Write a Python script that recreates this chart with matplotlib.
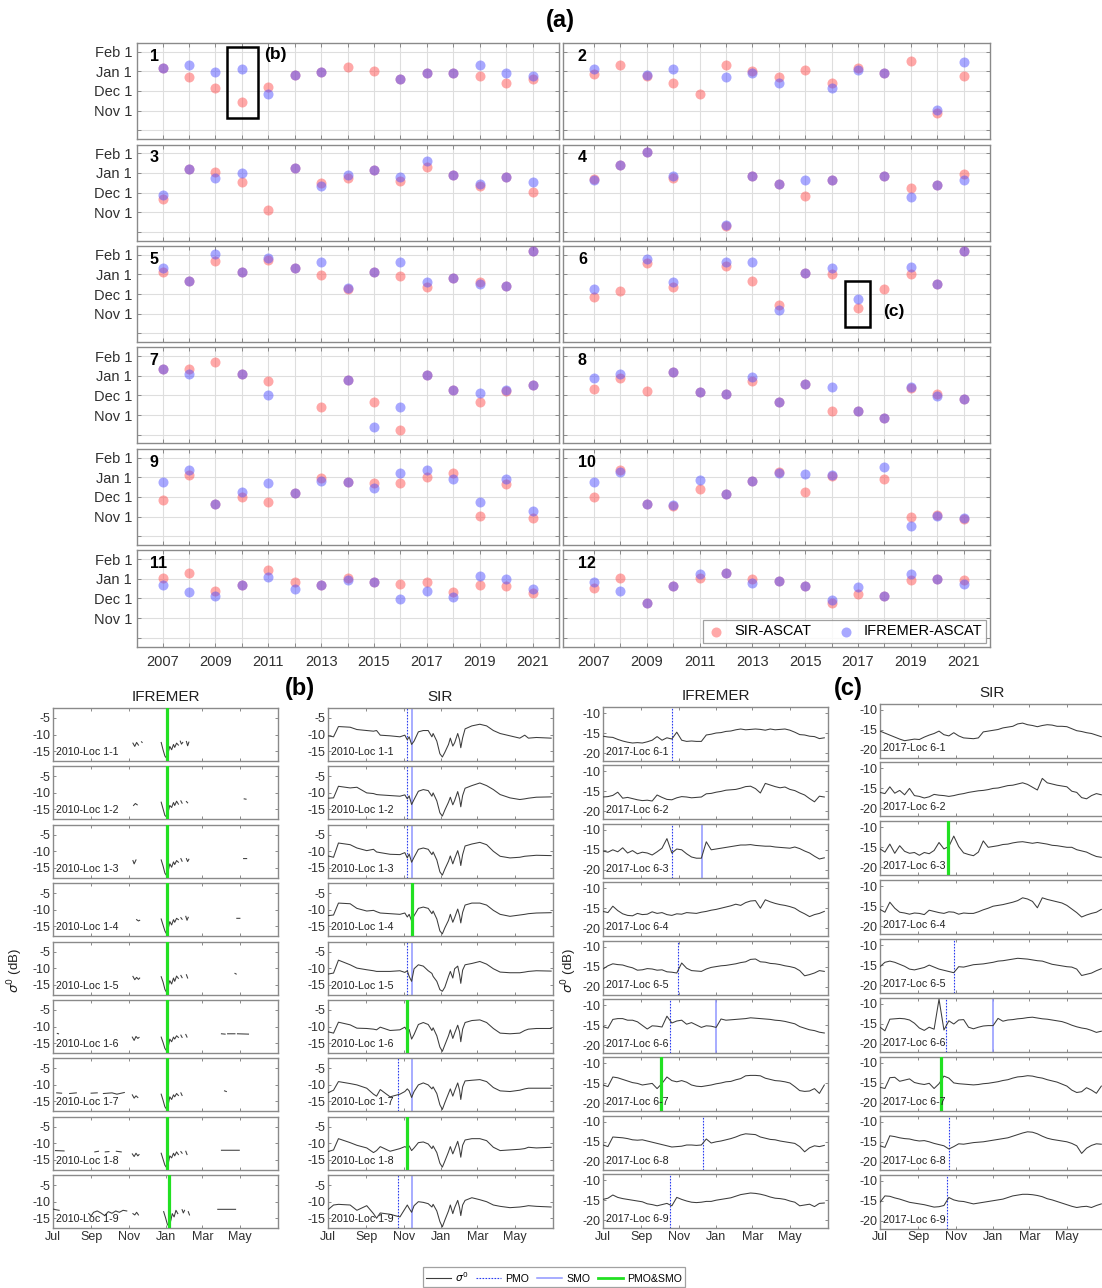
import numpy as np
import matplotlib.pyplot as plt
from matplotlib.patches import Rectangle
from matplotlib.lines import Line2D

plt.rcParams['font.family'] = ['Liberation Sans', 'DejaVu Sans']
plt.rcParams['axes.unicode_minus'] = False

nan = np.nan
W, H = 1102, 1288

# ---------------- (a) onset dates, in months relative to Jan 1 ----------------
YEARS = list(range(2007, 2022))
SIR_1 = [0.17, -0.26, -0.83, -1.55, -0.81, -0.16, -0.03, 0.21, 0.05, -0.4, -0.07, -0.09, -0.21, -0.57, -0.4]
IFR_1 = [0.17, 0.34, -0.05, 0.12, -1.17, -0.16, -0.03, nan, nan, -0.4, -0.1, -0.09, 0.34, -0.1, -0.21]
SIR_2 = [-0.12, 0.34, -0.23, -0.6, -1.16, 0.31, 0.0, -0.29, 0.09, -0.6, 0.2, -0.1, 0.52, -2.12, -0.21]
IFR_2 = [0.12, nan, -0.19, 0.14, nan, -0.26, -0.06, -0.57, nan, -0.83, 0.1, -0.1, nan, -1.98, 0.5]
SIR_3 = [-1.31, 0.22, 0.03, -0.48, -1.88, 0.28, -0.53, -0.28, 0.16, -0.4, 0.33, -0.1, -0.69, -0.21, -0.95]
IFR_3 = [-1.12, 0.22, -0.26, -0.02, nan, 0.28, -0.66, -0.1, 0.16, -0.22, 0.64, -0.1, -0.57, -0.21, -0.45]
SIR_4 = [-0.3, 0.41, 1.07, -0.28, nan, -2.74, -0.14, -0.55, -1.17, -0.34, nan, -0.14, -0.79, -0.6, -0.07]
IFR_4 = [-0.36, 0.41, 1.07, -0.14, nan, -2.66, -0.14, -0.55, -0.36, -0.34, nan, -0.14, -1.24, -0.64, -0.34]
SIR_5 = [0.14, -0.31, 0.71, 0.14, 0.76, 0.34, -0.03, -0.76, 0.14, -0.07, -0.64, -0.17, -0.38, -0.57, 1.21]
IFR_5 = [0.34, -0.31, 1.05, 0.14, 0.86, 0.34, 0.64, -0.69, 0.14, 0.64, -0.4, -0.17, -0.47, -0.57, 1.21]
SIR_6 = [-1.14, -0.83, 0.57, -0.64, nan, 0.45, -0.33, -1.55, 0.09, 0.02, -1.74, -0.72, 0.0, -0.47, 1.19]
IFR_6 = [-0.72, nan, 0.79, -0.41, nan, 0.62, 0.66, -1.81, 0.09, 0.34, -1.24, nan, 0.38, -0.47, 1.19]
SIR_7 = [0.38, 0.38, 0.72, 0.12, -0.26, nan, -1.57, -0.19, -1.31, -2.79, 0.05, -0.74, -1.34, -0.79, -0.48]
IFR_7 = [0.34, 0.12, nan, 0.12, -0.95, nan, nan, -0.19, -2.59, -1.57, 0.05, -0.74, -0.88, -0.74, -0.48]
SIR_8 = [-0.69, -0.1, -0.76, 0.21, -0.83, -0.91, -0.28, -1.34, -0.4, -1.79, -1.79, -2.17, -0.62, -0.93, -1.17]
IFR_8 = [-0.1, 0.1, nan, 0.21, -0.83, -0.91, -0.07, -1.34, -0.4, -0.55, -1.79, -2.17, -0.55, -1.03, -1.17]
SIR_9 = [-1.14, 0.14, -1.38, -1.02, -1.24, -0.81, -0.03, -0.21, -0.26, -0.26, 0.0, 0.22, -1.98, -0.33, -2.07]
IFR_9 = [-0.21, 0.4, -1.38, -0.76, -0.29, -0.81, -0.17, -0.21, -0.52, 0.24, 0.36, -0.07, -1.28, -0.07, -1.72]
SIR_10 = [-0.98, 0.36, -1.38, -1.48, -0.6, -0.86, -0.17, 0.27, -0.72, 0.07, nan, -0.07, -2.0, -1.9, -2.14]
IFR_10 = [-0.24, 0.26, -1.38, -1.43, -0.14, -0.86, -0.17, 0.22, 0.17, 0.12, nan, 0.53, -2.48, -1.97, -2.06]
SIR_11 = [0.03, 0.33, -0.62, -0.31, 0.47, -0.14, -0.33, 0.07, -0.14, -0.26, -0.17, -0.69, -0.31, -0.36, -0.74]
IFR_11 = [-0.31, -0.69, -0.86, -0.31, 0.1, -0.52, -0.33, -0.07, -0.14, -1.03, -0.6, -0.91, 0.17, 0.0, -0.52]
SIR_12 = [-0.45, 0.03, -1.21, -0.38, 0.03, 0.29, 0.0, -0.09, -0.34, -1.24, -0.79, -0.86, -0.07, -0.02, -0.05]
IFR_12 = [-0.14, -0.6, -1.21, -0.34, 0.24, 0.29, -0.22, -0.09, -0.34, -1.07, -0.4, -0.86, 0.24, -0.02, -0.26]

SIR_ALL = [SIR_1, SIR_2, SIR_3, SIR_4, SIR_5, SIR_6, SIR_7, SIR_8, SIR_9, SIR_10, SIR_11, SIR_12]
IFR_ALL = [IFR_1, IFR_2, IFR_3, IFR_4, IFR_5, IFR_6, IFR_7, IFR_8, IFR_9, IFR_10, IFR_11, IFR_12]
MONTH_TICKS = [1, 0, -1, -2, -3]
MONTH_LABELS = ['Feb 1', 'Jan 1', 'Dec 1', 'Nov 1', '']

# ---------------- (b)/(c) sigma0 series, days since Jul 1 ----------------
# IFREMER 2010: sparse (day, dB) observations, None = gap
IFR10_1 = [(130, -12.6), (133, -13.6), (136, -12.4), (139, -13.2), None, (144, -12.2), (145, -12.4), None,
           (176, -12.4), (179, -14.6), (182, -16.5), (185, -17.2), (188, -15.0), (190, -13.6), (193, -14.6),
           (196, -13.0), (198, -13.9), (201, -12.6), (204, -13.2), None, (207, -12.0), (209, -12.9), (211, -12.4),
           None, (217, -12.1), (219, -13.4), (221, -12.3)]
IFR10_2 = [(131, -13.8), (134, -13.2), (137, -13.6), None, (176, -12.8), (179, -14.8), (182, -16.8), (185, -17.3),
           (188, -15.2), (190, -13.8), (193, -14.4), (196, -12.9), (198, -13.8), (201, -12.5), (204, -13.4), None,
           (208, -12.4), (210, -13.1), None, (217, -12.6), (219, -13.0), None, (311, -11.8), (314, -11.9)]
IFR10_3 = [(130, -12.8), (132, -13.8), (135, -12.6), None, (176, -12.6), (179, -14.4), (182, -16.6), (185, -17.4),
           (188, -15.4), (190, -13.8), (193, -14.8), (196, -13.2), (198, -14.0), (201, -12.8), (204, -13.3), None,
           (208, -12.2), (210, -13.0), None, (217, -12.2), (219, -13.1), (221, -12.4), None, (310, -12.2), (315, -12.2)]
IFR10_4 = [(136, -13.0), (139, -13.4), (141, -13.2), None, (176, -12.8), (179, -14.6), (182, -16.4), (185, -17.4),
           (188, -15.2), (190, -13.6), (193, -14.6), (196, -13.0), (198, -13.8), (201, -12.6), (204, -13.0), None,
           (208, -12.4), (210, -12.9), None, (216, -12.0), (218, -13.2), (220, -12.3), None, (299, -12.6), (304, -12.6)]
IFR10_5 = [(130, -12.5), (133, -13.5), (136, -12.8), (139, -13.4), (141, -13.0), None, (176, -12.6), (179, -14.2),
           (182, -16.4), (185, -17.4), (188, -15.0), (190, -13.8), (193, -14.8), (196, -13.0), (198, -14.0),
           (201, -12.4), (204, -13.1), None, (208, -12.2), (210, -12.9), None, (217, -12.0), (219, -13.0), None,
           (296, -11.6), (298, -11.8)]
IFR10_6 = [(7, -12.1), (9, -12.2), None, (129, -13.2), (132, -14.2), (135, -13.0), (138, -13.6), (140, -13.3), None,
           (176, -13.2), (179, -14.8), (182, -16.6), (185, -17.4), (188, -15.6), (190, -13.8), (193, -14.6),
           (196, -13.2), (198, -13.8), (201, -12.8), (204, -13.3), None, (208, -12.6), (210, -13.3), None,
           (216, -12.4), (218, -13.2), None, (274, -12.2), (280, -12.3), None, (284, -12.2), (296, -12.2), None,
           (300, -12.2), (318, -12.3)]
IFR10_7 = [(6, -12.4), (14, -12.5), None, (27, -12.6), (38, -12.4), None, (62, -12.5), (72, -12.4), None,
           (82, -12.6), (96, -12.4), (104, -12.8), (116, -12.3), None, (129, -13.0), (132, -14.0), (135, -13.3),
           (138, -13.8), None, (176, -12.8), (179, -14.6), (182, -16.6), (185, -17.4), (188, -15.4), (190, -13.6),
           (193, -14.4), (196, -13.0), (198, -13.6), (201, -12.6), (204, -13.2), None, (208, -12.4), (210, -13.2),
           None, (279, -11.8), (282, -12.0)]
IFR10_8 = [(4, -12.2), (18, -12.3), None, (68, -12.6), (74, -12.4), None, (85, -12.6), (91, -12.5), None,
           (103, -12.4), (111, -12.6), None, (129, -13.2), (132, -14.0), (135, -13.0), (138, -13.8), (140, -13.4),
           None, (176, -13.0), (179, -14.8), (182, -16.6), (185, -17.4), (188, -15.6), (190, -13.8), (193, -14.4),
           (196, -13.0), (198, -13.8), (201, -12.6), (204, -13.4), None, (208, -12.5), (210, -13.0), None,
           (216, -12.4), (218, -13.4), None, (274, -12.1), (303, -12.1)]
IFR10_9 = [(0, -12.2), (4, -12.4), (10, -12.6), None, (58, -13.6), (62, -14.3), (66, -13.2), (72, -12.8),
           (78, -13.4), (84, -14.2), (90, -13.0), (96, -13.5), (102, -12.8), (108, -13.2), (114, -12.6),
           (120, -12.8), None, (130, -13.6), (133, -14.0), (136, -13.2), (139, -14.0), None, (180, -13.0),
           (183, -14.8), (186, -16.8), (189, -17.6), (192, -15.4), (194, -13.6), (197, -14.6), (200, -12.6),
           (203, -13.6), None, (210, -12.4), (212, -13.4), (214, -12.6), None, (220, -13.0), (222, -14.0), None,
           (268, -12.3), (297, -12.3)]

# SIR 2010: shared sample days
D10 = [0, 9, 17, 36, 47, 63, 74, 79, 85, 101, 117, 125, 129, 132, 136, 140, 147, 155, 163, 169, 171, 177,
       182, 186, 190, 196, 199, 203, 206, 211, 214, 216, 219, 223, 234, 247, 258, 269, 280, 296, 312, 320,
       326, 339, 363]
SIR10_1 = [-10.4, -10.7, -7.6, -7.8, -8.5, -8.8, -9.0, -8.8, -10.2, -10.4, -10.7, -10.2, -11.6, -10.7, -13.0,
           -12.0, -9.2, -8.8, -8.8, -10.7, -9.7, -12.0, -15.8, -16.8, -15.4, -13.0, -11.1, -13.5, -12.5, -9.7,
           -11.6, -14.0, -11.0, -8.3, -7.4, -6.9, -7.4, -8.8, -9.7, -10.4, -11.1, -10.2, -11.1, -10.9, -11.1]
SIR10_2 = [-11.6, -11.5, -8.0, -8.5, -8.3, -10.0, -10.2, -10.5, -10.6, -10.8, -11.0, -10.6, -11.8, -10.9, -13.5,
           -12.0, -9.5, -9.0, -9.3, -11.0, -10.0, -12.4, -16.0, -17.0, -15.2, -12.8, -11.3, -13.6, -12.3, -9.6,
           -11.8, -14.2, -10.8, -8.6, -7.8, -7.0, -7.8, -9.0, -10.5, -11.5, -12.0, -11.8, -11.6, -11.3, -11.2]
SIR10_3 = [-11.4, -11.8, -7.5, -8.0, -9.0, -9.8, -9.4, -10.2, -10.4, -10.9, -11.0, -10.4, -12.0, -10.8, -13.3,
           -11.8, -9.4, -9.0, -9.4, -11.0, -10.2, -12.6, -16.2, -17.2, -15.4, -13.0, -11.4, -13.8, -12.2, -9.8,
           -11.9, -14.3, -11.0, -8.4, -7.8, -7.3, -8.0, -10.0, -11.5, -12.0, -11.8, -11.5, -11.4, -11.2, -11.3]
SIR10_4 = [-11.8, -11.6, -8.0, -8.2, -9.6, -10.4, -10.2, -10.6, -11.0, -11.2, -11.4, -11.0, -12.2, -11.4, -13.4,
           -11.8, -9.6, -9.2, -9.6, -11.2, -10.4, -12.8, -16.4, -17.3, -15.5, -13.2, -11.4, -13.8, -12.4, -9.8,
           -11.8, -14.0, -10.8, -8.6, -8.0, -8.0, -8.6, -10.2, -11.4, -12.0, -11.6, -11.4, -11.2, -11.0, -10.9]
SIR10_5 = [-11.8, -11.5, -7.6, -9.0, -10.0, -10.5, -10.8, -11.0, -11.0, -11.0, -10.8, -11.3, -10.8, -12.5, -14.0,
           -10.2, -9.0, -9.4, -10.8, -11.6, -12.5, -14.0, -16.5, -17.0, -15.8, -12.5, -11.0, -13.0, -10.2, -9.4,
           -12.0, -14.6, -10.6, -9.0, -8.6, -8.0, -8.8, -10.2, -11.2, -11.4, -11.4, -11.2, -11.0, -10.8, -10.9]
SIR10_6 = [-11.6, -12.0, -8.7, -9.5, -10.5, -10.6, -10.8, -11.0, -10.2, -11.2, -11.0, -10.2, -11.4, -10.9, -13.8,
           -12.4, -9.4, -8.8, -9.4, -11.2, -10.4, -12.8, -16.2, -17.5, -15.6, -12.8, -11.0, -13.6, -12.0, -9.6,
           -11.6, -14.6, -10.8, -8.8, -8.2, -8.0, -8.8, -10.6, -12.0, -12.2, -12.0, -11.2, -10.8, -10.6, -10.6]
SIR10_7 = [-12.4, -11.6, -9.0, -9.6, -10.0, -11.0, -12.8, -13.4, -11.4, -13.6, -12.8, -12.0, -11.2, -11.8, -13.8,
           -12.0, -10.0, -9.4, -10.0, -11.2, -10.6, -12.6, -16.0, -17.4, -15.4, -12.6, -11.2, -13.4, -11.8, -9.4,
           -11.6, -14.4, -10.6, -8.8, -8.6, -8.4, -9.0, -10.8, -11.8, -12.0, -11.6, -11.2, -11.0, -11.0, -11.0]
SIR10_8 = [-12.5, -12.0, -8.6, -9.8, -10.6, -11.4, -12.8, -12.2, -11.0, -12.4, -11.6, -11.0, -11.4, -10.8, -12.2,
           -11.4, -9.8, -9.6, -10.2, -11.6, -10.8, -12.8, -16.0, -17.2, -15.4, -12.6, -11.0, -13.2, -11.8, -9.4,
           -11.8, -14.2, -10.6, -9.0, -8.6, -8.6, -9.2, -11.2, -12.2, -12.0, -11.8, -11.6, -11.2, -11.4, -11.2]
SIR10_9 = [-12.4, -11.0, -10.8, -11.0, -12.6, -11.2, -13.6, -15.0, -13.4, -13.8, -14.6, -12.2, -11.0, -12.0, -13.2,
           -11.2, -10.0, -10.2, -10.6, -11.6, -10.8, -12.8, -16.0, -17.6, -15.6, -12.8, -11.0, -13.6, -11.8, -9.6,
           -11.8, -14.2, -11.0, -9.6, -8.8, -9.4, -10.0, -11.0, -11.4, -11.8, -11.6, -11.4, -11.2, -11.4, -11.6]

# 2017 series, sampled every 8 days from Jul 1
D17 = np.arange(0, 361, 8)
IFR17_1 = [-15.8, -16.0, -16.1, -16.6, -17.0, -17.3, -17.5, -17.4, -17.5, -17.2, -16.8, -15.9, -16.8, -16.2, -16.5,
           -14.8, -16.8, -17.1, -17.0, -17.1, -17.1, -15.5, -15.3, -15.0, -14.9, -14.6, -14.5, -14.2, -14.0, -14.2,
           -14.1, -14.0, -14.1, -14.3, -14.0, -14.2, -14.1, -14.0, -14.3, -14.8, -15.4, -15.5, -15.8, -15.9, -16.4, -16.2]
IFR17_2 = [-16.4, -16.3, -16.0, -15.2, -16.7, -16.5, -16.8, -17.1, -17.3, -17.2, -17.4, -15.9, -16.5, -17.0, -17.1,
           -16.6, -16.3, -16.4, -16.6, -16.5, -16.4, -15.6, -15.5, -15.2, -15.0, -14.7, -14.6, -14.5, -14.2, -13.8,
           -13.7, -14.3, -15.4, -13.0, -13.4, -13.8, -14.1, -13.9, -14.5, -14.8, -15.4, -15.9, -16.8, -17.6, -16.2, -16.4]
IFR17_3 = [-15.3, -15.6, -15.0, -15.5, -14.5, -15.8, -15.2, -16.0, -15.6, -15.8, -16.3, -15.5, -14.6, -12.2, -15.8,
           -14.8, -15.0, -16.0, -16.8, -17.1, -17.1, -13.0, -15.0, -14.8, -14.6, -14.4, -14.2, -14.0, -13.8, -13.8,
           -13.7, -13.9, -14.0, -14.1, -14.1, -14.3, -14.4, -14.5, -14.6, -14.3, -14.7, -15.3, -15.8, -16.6, -17.3, -17.0]
IFR17_4 = [-15.8, -16.1, -14.5, -15.6, -16.4, -16.8, -16.9, -16.3, -16.6, -16.5, -15.9, -16.3, -16.1, -16.6, -16.8,
           -16.4, -16.5, -16.1, -16.2, -16.3, -16.0, -15.8, -15.5, -15.3, -15.0, -14.7, -14.4, -14.0, -14.3, -13.6,
           -13.2, -13.1, -15.0, -12.9, -13.4, -13.8, -14.1, -14.3, -14.6, -15.0, -15.8, -16.4, -17.1, -16.6, -16.3, -15.8]
IFR17_5 = [-15.6, -14.8, -14.3, -14.5, -14.6, -15.0, -15.3, -15.9, -15.8, -15.5, -15.6, -15.9, -15.8, -16.3, -16.4,
           -16.6, -14.1, -15.4, -16.0, -16.1, -16.2, -15.6, -15.2, -15.0, -14.8, -14.7, -14.5, -14.3, -14.0, -13.8,
           -13.2, -13.1, -13.8, -13.9, -14.2, -14.3, -14.5, -14.8, -15.0, -15.3, -16.0, -17.3, -17.0, -16.6, -16.0, -16.2]
IFR17_6 = [-15.4, -15.8, -13.6, -13.4, -13.4, -13.8, -13.8, -14.2, -15.1, -16.0, -15.2, -15.3, -15.5, -12.8, -14.5,
           -14.0, -13.8, -14.8, -14.4, -15.0, -15.6, -15.2, -15.3, -15.6, -13.5, -13.8, -13.7, -13.6, -13.5, -13.4,
           -13.2, -13.3, -13.4, -13.5, -13.6, -13.8, -13.9, -14.1, -14.4, -14.7, -15.4, -15.8, -16.2, -16.4, -16.8, -17.0]
IFR17_7 = [-15.4, -15.8, -13.4, -13.6, -14.0, -14.4, -14.8, -15.0, -15.4, -15.2, -15.0, -16.3, -15.0, -13.4, -14.3,
           -14.6, -14.3, -14.7, -15.4, -15.7, -15.8, -15.6, -15.4, -15.1, -14.9, -14.6, -14.5, -14.1, -13.8, -13.1,
           -13.0, -13.0, -13.1, -13.7, -14.0, -14.3, -14.4, -14.6, -14.9, -15.8, -16.8, -17.0, -16.9, -16.3, -17.5, -15.4]
IFR17_8 = [-15.8, -16.2, -13.8, -13.9, -14.0, -14.2, -14.5, -14.6, -14.5, -14.8, -15.1, -15.4, -15.7, -16.0, -16.3,
           -16.2, -16.1, -15.8, -15.8, -15.9, -15.8, -14.3, -15.3, -15.0, -14.8, -14.5, -14.2, -13.8, -13.3, -13.0,
           -13.1, -13.2, -13.8, -14.1, -14.4, -14.5, -14.8, -15.0, -15.2, -15.4, -16.2, -17.5, -16.5, -16.0, -16.2, -15.9]
IFR17_9 = [-14.8, -14.5, -13.7, -14.3, -14.6, -14.8, -15.0, -15.2, -15.4, -15.9, -16.1, -16.4, -16.1, -15.8, -16.4,
           -14.3, -14.8, -15.2, -15.5, -15.6, -15.5, -15.3, -15.3, -15.0, -14.8, -14.6, -14.4, -14.0, -13.6, -13.4,
           -13.2, -13.3, -13.5, -13.8, -14.2, -14.5, -14.6, -14.8, -15.2, -15.5, -16.4, -16.2, -16.0, -16.6, -15.8, -15.7]

SIR17_1 = [-15.4, -15.9, -16.4, -16.9, -17.4, -17.8, -17.6, -17.4, -17.5, -16.9, -16.4, -16.0, -15.4, -16.3, -16.6,
           -15.8, -16.6, -17.1, -17.2, -17.3, -17.1, -15.6, -15.4, -15.2, -15.0, -14.6, -14.4, -14.2, -13.6, -13.4,
           -13.8, -14.0, -14.3, -14.0, -13.8, -13.9, -14.2, -14.2, -14.3, -14.8, -15.3, -15.5, -15.8, -16.0, -16.4, -16.8]
SIR17_2 = [-16.0, -16.3, -14.6, -16.2, -15.5, -16.6, -15.0, -16.8, -17.0, -17.4, -17.1, -16.5, -16.7, -16.8, -17.0,
           -16.8, -16.5, -16.3, -16.0, -15.8, -15.6, -15.5, -15.3, -15.0, -14.9, -14.6, -14.3, -14.2, -13.9, -13.6,
           -14.0, -14.7, -15.4, -12.5, -13.6, -13.9, -14.2, -14.4, -14.6, -15.7, -16.0, -17.3, -17.6, -16.8, -16.3, -16.6]
SIR17_3 = [-15.4, -16.2, -14.2, -16.5, -14.6, -16.0, -16.5, -16.3, -17.0, -16.3, -16.6, -15.8, -13.8, -15.4, -14.8,
           -12.2, -14.8, -16.4, -16.8, -17.1, -16.2, -13.4, -15.0, -14.8, -14.6, -14.3, -14.2, -13.9, -13.7, -13.6,
           -13.8, -14.0, -13.8, -14.0, -14.2, -14.5, -14.6, -14.8, -15.0, -15.0, -15.6, -15.9, -16.2, -16.8, -17.3, -17.5]
SIR17_4 = [-15.8, -16.5, -14.0, -15.5, -16.5, -16.7, -17.0, -16.7, -16.8, -17.1, -16.0, -16.3, -16.6, -16.8, -16.4,
           -16.5, -17.0, -16.7, -16.8, -16.8, -16.4, -15.9, -15.5, -15.0, -14.8, -14.6, -14.3, -14.0, -13.6, -12.9,
           -13.2, -13.8, -15.4, -12.9, -13.3, -13.6, -13.9, -14.2, -14.8, -15.7, -16.6, -17.7, -17.2, -16.8, -16.5, -15.8]
SIR17_5 = [-15.4, -14.3, -14.0, -14.3, -14.8, -15.3, -16.0, -16.2, -15.9, -15.6, -15.0, -15.5, -16.0, -16.3, -16.6,
           -16.9, -15.4, -15.5, -15.2, -14.9, -14.8, -14.7, -14.5, -14.3, -14.0, -13.9, -13.7, -13.5, -13.3, -13.4,
           -13.5, -13.7, -13.9, -14.0, -14.4, -14.8, -15.0, -15.2, -15.4, -15.5, -16.0, -17.6, -17.3, -17.0, -16.4, -15.9]
SIR17_6 = [-15.8, -16.7, -13.8, -13.7, -13.6, -13.7, -14.0, -14.8, -16.0, -16.6, -15.8, -16.3, -8.8, -16.5, -14.2,
           -15.0, -14.0, -13.9, -15.8, -16.2, -15.8, -15.5, -15.4, -15.4, -13.6, -14.3, -14.0, -13.9, -13.7, -13.6,
           -13.4, -13.3, -13.5, -13.7, -13.8, -14.0, -14.2, -14.4, -14.8, -15.3, -15.7, -16.0, -16.2, -16.6, -17.1, -16.8]
SIR17_7 = [-16.1, -16.4, -13.7, -13.6, -14.6, -14.3, -14.0, -14.9, -15.2, -15.4, -15.1, -16.4, -15.2, -13.3, -13.8,
           -15.0, -15.2, -15.3, -15.4, -15.5, -15.4, -15.2, -15.1, -14.9, -14.7, -14.4, -14.2, -13.8, -13.5, -13.4,
           -13.2, -13.3, -13.6, -13.8, -14.2, -14.5, -14.8, -15.3, -15.8, -16.8, -17.4, -17.2, -16.2, -16.8, -17.6, -15.8]
SIR17_8 = [-16.0, -16.4, -13.5, -13.7, -14.0, -14.2, -14.3, -14.6, -14.8, -14.7, -15.0, -15.4, -15.7, -16.0, -16.8,
           -16.2, -15.5, -15.6, -15.4, -15.2, -15.1, -15.0, -14.8, -14.6, -14.4, -14.2, -14.0, -13.6, -13.2, -12.8,
           -12.5, -12.6, -13.0, -13.6, -14.1, -14.4, -14.6, -14.8, -15.0, -15.4, -16.0, -17.9, -16.6, -15.9, -15.5, -15.6]
SIR17_9 = [-15.4, -13.8, -13.9, -14.3, -14.6, -15.0, -15.4, -15.6, -15.8, -16.0, -16.3, -16.6, -16.5, -16.2, -14.2,
           -14.8, -15.1, -15.2, -15.5, -15.8, -15.6, -15.4, -15.2, -15.0, -14.8, -14.6, -14.2, -13.8, -13.6, -13.4,
           -13.4, -13.5, -13.7, -14.0, -14.5, -14.8, -15.2, -15.6, -16.0, -16.4, -16.7, -16.5, -16.4, -16.7, -16.2, -15.8]

# melt-onset markers (day since Jul 1), per location 1..9
PMO_SIR10 = [128, 128, 128, None, 128, None, 114, None, 114]
SMO_SIR10 = [137, 137, 137, None, 137, None, 137, None, 137]
BOTH_SIR10 = [None, None, None, 137, None, 128, None, 128, None]
BOTH_IFR10 = [185, 185, 185, 185, 185, 185, 185, 185, 189]
PMO_IFR17 = [112, None, 112, None, 122, 109, None, 163, 109]
SMO_IFR17 = [None, None, 161, None, None, 183, None, None, None]
BOTH_IFR17 = [None, None, None, None, None, None, 94, None, None]
PMO_SIR17 = [None, None, None, None, 121, 107, None, 113, 109]
SMO_SIR17 = [None, None, None, None, None, 184, None, None, None]
BOTH_SIR17 = [None, None, 110, None, None, None, 99, None, None]

MONTH_DAYS = [0, 62, 123, 184, 243, 304]
MONTH_NAMES = ['Jul', 'Sep', 'Nov', 'Jan', 'Mar', 'May']

# ---------------- drawing ----------------
FRAME = '#8a8a8a'
GRIDC = '#dedede'
TXT = '#303030'
RED = (1.0, 0.32, 0.32)
BLUE = (0.32, 0.32, 1.0)
PMO_C = '#2a3cf0'
SMO_C = '#8f96ff'
BOTH_C = '#22e022'

fig = plt.figure(figsize=(W / 100, H / 100), dpi=100)


def box(l, t, w, h):
    return [l / W, 1 - (t + h) / H, w / W, h / H]


def frame(ax):
    for s in ax.spines.values():
        s.set_color(FRAME)
        s.set_linewidth(1.0)
    ax.tick_params(direction='in', colors=FRAME, labelcolor=TXT, top=True, right=True,
                   length=3, width=0.7)


# (a)
fig.text(560 / W, 1 - 20 / H, '(a)', ha='center', va='center', fontsize=17, fontweight='bold')
col_left = [137, 563]
col_w = [422, 427]
col_xlim = [(2006.03, 2022.0), (2005.83, 2022.0)]
axes_a = []
for k in range(12):
    r, c = divmod(k, 2)
    ax = fig.add_axes(box(col_left[c], 43 + 101.5 * r, col_w[c], 96))
    ax.scatter(YEARS, SIR_ALL[k], s=52, color=RED, alpha=0.5, lw=0, zorder=3, label='SIR-ASCAT')
    ax.scatter(YEARS, IFR_ALL[k], s=52, color=BLUE, alpha=0.5, lw=0, zorder=4, label='IFREMER-ASCAT')
    ax.set_xlim(*col_xlim[c])
    ax.set_ylim(-3.46, 1.46)
    ax.set_xticks(YEARS)
    ax.set_yticks(MONTH_TICKS)
    ax.grid(True, color=GRIDC, lw=0.8)
    ax.set_axisbelow(True)
    frame(ax)
    ax.tick_params(labelsize=10.5)
    if c == 0:
        ax.set_yticklabels(MONTH_LABELS)
    else:
        ax.set_yticklabels([])
    if r == 5:
        ax.set_xticklabels([str(y) if y % 2 else '' for y in YEARS])
        ax.tick_params(axis='x', pad=6)
    else:
        ax.set_xticklabels([])
    ax.text(0.03 if c == 0 else 0.035, 0.86, str(k + 1), transform=ax.transAxes,
            fontsize=11.5, fontweight='bold', ha='left', va='center')
    axes_a.append(ax)

axes_a[0].add_patch(Rectangle((2009.42, -2.4), 1.18, 3.68, fill=False, ec='k', lw=1.8, zorder=6))
axes_a[0].text(2010.85, 0.86, '(b)', fontsize=12.5, fontweight='bold', va='center', ha='left')
axes_a[5].add_patch(Rectangle((2016.51, -2.69), 0.94, 2.36, fill=False, ec='k', lw=1.8, zorder=6))
axes_a[5].text(2017.95, -1.9, '(c)', fontsize=12.5, fontweight='bold', va='center', ha='left')
leg = axes_a[11].legend(loc='lower right', ncol=2, fontsize=10.5, frameon=True, fancybox=False,
                        borderaxespad=0.25, handlelength=1.2, handletextpad=0.6, columnspacing=1.8,
                        borderpad=0.3)
leg.get_frame().set_edgecolor(FRAME)
leg.get_frame().set_linewidth(0.9)


# (b) and (c)
def to_xy(pairs):
    d = [p[0] if p else nan for p in pairs]
    v = [p[1] if p else nan for p in pairs]
    return d, v


columns = [
    dict(left=53, top=708, step=58.4, h=53, ylim=(-18, -2), yt=[-15, -10, -5], year='2010', loc=1,
         title='IFREMER',
         series=[to_xy(s) for s in [IFR10_1, IFR10_2, IFR10_3, IFR10_4, IFR10_5, IFR10_6, IFR10_7,
                                    IFR10_8, IFR10_9]],
         pmo=[None] * 9, smo=[None] * 9, both=BOTH_IFR10),
    dict(left=328, top=708, step=58.4, h=53, ylim=(-18, -2), yt=[-15, -10, -5], year='2010', loc=1,
         title='SIR',
         series=[(D10, s) for s in [SIR10_1, SIR10_2, SIR10_3, SIR10_4, SIR10_5, SIR10_6, SIR10_7,
                                    SIR10_8, SIR10_9]],
         pmo=PMO_SIR10, smo=SMO_SIR10, both=BOTH_SIR10),
    dict(left=603, top=707, step=58.4, h=54, ylim=(-22, -8.5), yt=[-20, -15, -10], year='2017', loc=6,
         title='IFREMER',
         series=[(D17, s) for s in [IFR17_1, IFR17_2, IFR17_3, IFR17_4, IFR17_5, IFR17_6, IFR17_7,
                                    IFR17_8, IFR17_9]],
         pmo=PMO_IFR17, smo=SMO_IFR17, both=BOTH_IFR17),
    dict(left=880, top=703.5, step=58.9, h=54, ylim=(-22, -8.5), yt=[-20, -15, -10], year='2017', loc=6,
         title='SIR',
         series=[(D17, s) for s in [SIR17_1, SIR17_2, SIR17_3, SIR17_4, SIR17_5, SIR17_6, SIR17_7,
                                    SIR17_8, SIR17_9]],
         pmo=PMO_SIR17, smo=SMO_SIR17, both=BOTH_SIR17),
]

for col in columns:
    for i in range(9):
        ax = fig.add_axes(box(col['left'], col['top'] + i * col['step'], 225, col['h']))
        d, v = col['series'][i]
        ax.plot(d, v, color='#3c3c3c', lw=0.75, zorder=3)
        if col['pmo'][i] is not None:
            ax.axvline(col['pmo'][i], color=PMO_C, lw=0.8, ls=(0, (1.5, 1.2)), zorder=2)
        if col['smo'][i] is not None:
            ax.axvline(col['smo'][i], color=SMO_C, lw=1.1, zorder=2)
        if col['both'][i] is not None:
            ax.axvline(col['both'][i], color=BOTH_C, lw=2.3, zorder=4)
        ax.set_xlim(0, 366)
        ax.set_ylim(*col['ylim'])
        ax.set_yticks(col['yt'])
        ax.set_xticks(MONTH_DAYS)
        frame(ax)
        ax.tick_params(labelsize=9, length=2.5, pad=2)
        if i == 8:
            ax.set_xticklabels(MONTH_NAMES)
        else:
            ax.set_xticklabels([])
        ax.text(0.012, 0.17, '%s-Loc %d-%d' % (col['year'], col['loc'], i + 1), transform=ax.transAxes,
                fontsize=7.7, color='#202020', ha='left', va='center', zorder=5)
        if i == 0:
            ax.set_title(col['title'], fontsize=11, color='#202020', pad=5)

fig.text(300 / W, 1 - 689 / H, '(b)', ha='center', va='center', fontsize=17, fontweight='bold')
fig.text(848 / W, 1 - 689 / H, '(c)', ha='center', va='center', fontsize=17, fontweight='bold')
fig.text(15 / W, 1 - 970 / H, r'$\sigma^0$ (dB)', rotation=90, ha='center', va='center', fontsize=9.5,
         color='#202020')
fig.text(569 / W, 1 - 970 / H, r'$\sigma^0$ (dB)', rotation=90, ha='center', va='center', fontsize=9.5,
         color='#202020')

handles = [Line2D([], [], color='#3c3c3c', lw=0.8),
           Line2D([], [], color=PMO_C, lw=0.8, ls=(0, (1.5, 1.2))),
           Line2D([], [], color=SMO_C, lw=1.1),
           Line2D([], [], color=BOTH_C, lw=2.0)]
bleg = fig.legend(handles, [r'$\sigma^0$', 'PMO', 'SMO', 'PMO&SMO'], loc='center',
                  bbox_to_anchor=(554 / W, 1 - 1277 / H), ncol=4, fontsize=7.6, frameon=True,
                  fancybox=False, handlelength=2.4, handletextpad=0.4, columnspacing=0.7,
                  borderpad=0.25)
bleg.get_frame().set_edgecolor(FRAME)
bleg.get_frame().set_linewidth(0.9)

fig.savefig('out.png', dpi=100)
